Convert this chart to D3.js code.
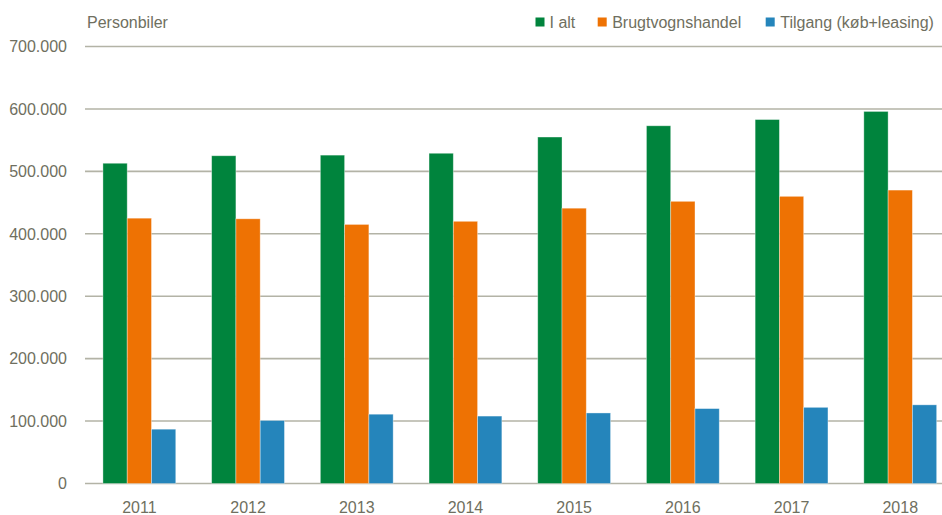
<!DOCTYPE html>
<html>
<head>
<meta charset="utf-8">
<script src="https://cdn.jsdelivr.net/npm/d3@7"></script>
<style>
  body { margin: 0; background: #fff; }
  text { font-family: "Liberation Sans", Arial, sans-serif; fill: #6f6f60; }
</style>
</head>
<body>
<div id="chart"></div>
<script>
const years = ["2011", "2012", "2013", "2014", "2015", "2016", "2017", "2018"];
const seriesNames = ["I alt", "Brugtvognshandel", "Tilgang (køb+leasing)"];
const iAlt = [513000, 525000, 526000, 529000, 555000, 573000, 583000, 596000];
const brugtvogn = [425000, 424000, 415000, 420000, 441000, 452000, 460000, 470000];
const tilgang = [87000, 101000, 111000, 108000, 113000, 120000, 122000, 126000];
const yTicks = [0, 100000, 200000, 300000, 400000, 500000, 600000, 700000];
const colors = ["#00843d", "#ee7203", "#2585bb"];

const width = 942, height = 515;
const plotLeft = 85, plotBottom = 483.5, plotTop = 46.5;

const svg = d3.select("#chart")
  .append("svg")
  .attr("width", width)
  .attr("height", height);

const y = d3.scaleLinear().domain([0, 700000]).range([plotBottom, plotTop]);
const x = d3.scaleBand().domain(years).range([plotLeft, plotLeft + 8 * 108.7]).paddingInner(0.33).paddingOuter(0.165);
const xs = d3.scaleBand().domain(seriesNames).range([0, x.bandwidth()]);

const fmt = d3.formatLocale({ decimal: ",", thousands: ".", grouping: [3], currency: ["", " kr."] }).format(",d");

// Grid lines
svg.append("g")
  .attr("class", "grid")
  .selectAll("line")
  .data(yTicks)
  .enter()
  .append("line")
  .attr("x1", plotLeft)
  .attr("x2", width)
  .attr("y1", (d) => y(d))
  .attr("y2", (d) => y(d))
  .attr("stroke", "#b3b3a6")
  .attr("stroke-width", 1.6);

// Y labels
svg.append("g")
  .selectAll("text")
  .data(yTicks)
  .enter()
  .append("text")
  .attr("x", 67)
  .attr("y", (d) => y(d))
  .attr("dy", "0.36em")
  .attr("text-anchor", "end")
  .style("font-size", "16px")
  .text((d) => fmt(d));

// Bars
const table = years.map((yr, i) => ({ year: yr, values: [iAlt[i], brugtvogn[i], tilgang[i]] }));

const groups = svg.selectAll(".bar-group")
  .data(table)
  .enter()
  .append("g")
  .attr("class", "bar-group")
  .attr("transform", (d) => `translate(${x(d.year)},0)`);

groups.selectAll("rect")
  .data((d) => d.values.map((v, j) => ({ name: seriesNames[j], value: v, j })))
  .enter()
  .append("rect")
  .attr("x", (d) => xs(d.name))
  .attr("width", xs.bandwidth())
  .attr("y", (d) => y(d.value))
  .attr("height", (d) => plotBottom - y(d.value))
  .attr("fill", (d) => colors[d.j])
  .attr("stroke", "rgba(255,255,255,0.45)")
  .attr("stroke-width", 0.8);

// X labels
svg.append("g")
  .selectAll("text")
  .data(years)
  .enter()
  .append("text")
  .attr("x", (d) => x(d) + x.bandwidth() / 2)
  .attr("y", 513)
  .attr("text-anchor", "middle")
  .style("font-size", "16px")
  .text((d) => d);

// Axis title
svg.append("text")
  .attr("x", 87)
  .attr("y", 27.5)
  .style("font-size", "16px")
  .text("Personbiler");

// Legend
const legendX = [535.5, 597.7, 765.7];
const legend = svg.append("g")
  .selectAll("g")
  .data(seriesNames)
  .enter()
  .append("g")
  .attr("transform", (d, i) => `translate(${legendX[i]},0)`);

legend.append("rect")
  .attr("x", 0)
  .attr("y", 17.5)
  .attr("width", 9)
  .attr("height", 9)
  .attr("fill", (d, i) => colors[i]);

legend.append("text")
  .attr("x", (d, i) => (i === 0 ? 14 : 14.5))
  .attr("y", 27.5)
  .style("font-size", "16px")
  .text((d) => d);
</script>
</body>
</html>
